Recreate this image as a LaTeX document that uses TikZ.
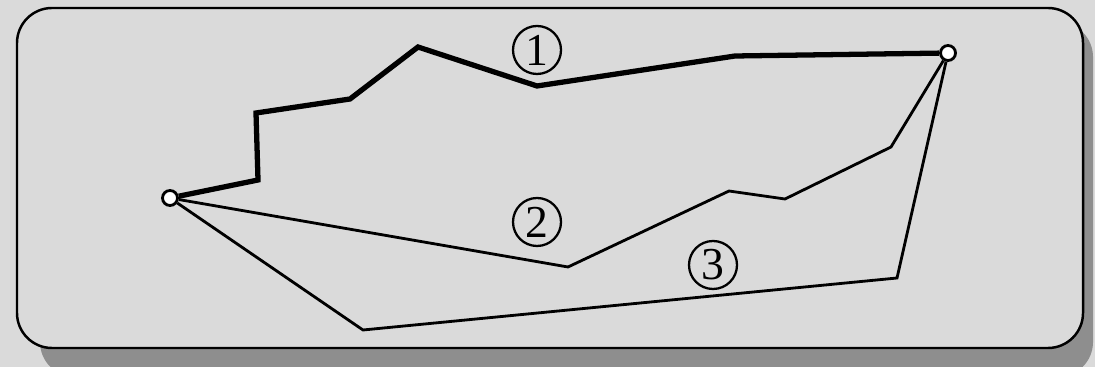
\documentclass[tikz,border=0pt]{standalone}
\usepackage{fontspec}
\setmainfont{Liberation Serif}
\definecolor{paperGray}{HTML}{DADADA}
\definecolor{shadowGray}{HTML}{8E8E8E}
\begin{document}
\begin{tikzpicture}[routeEnd/.style={draw, circle, fill=white, line width=0.8pt, inner sep=0pt, minimum size=0.15cm},
    routeLabel/.style={draw, circle, line width=0.65pt, inner sep=0pt, minimum size=0.48cm, font=\fontsize{13}{15}\selectfont},
    routeThick/.style={line width=1.5pt, line join=miter},
    routeThin/.style={line width=0.8pt, line join=miter},
    routeFrame/.style={draw, line width=0.7pt, rounded corners=0.35cm}]

    \fill[paperGray] (0, 0) rectangle (10.95, 3.67);
    \useasboundingbox (0, 0) rectangle (10.95, 3.67);
    \fill[shadowGray, rounded corners=0.35cm] (0.40, -0.10) rectangle (10.93, 3.45);
    \filldraw[routeFrame, fill=paperGray] (0.17, 0.19) rectangle (10.83, 3.59);

    \node[routeEnd] (start) at (1.70, 1.69) {};
    \node[routeEnd] (goal) at (9.48, 3.14) {};

    % route 1
    \draw[routeThick] (start) -- (2.58, 1.87) -- (2.56, 2.54) -- (3.50, 2.68) -- (4.18, 3.20)
        -- (5.37, 2.81) -- (7.35, 3.11) -- (goal);
    % route 2
    \draw[routeThin] (start) -- (5.68, 1.00) -- (7.29, 1.76) -- (7.85, 1.68) -- (8.91, 2.20) -- (goal);
    % route 3
    \draw[routeThin] (start) -- (3.63, 0.37) -- (8.97, 0.89) -- (goal);

    \node[routeLabel] (lab1) at (5.37, 3.17) {1};
    \node[routeLabel] (lab2) at (5.37, 1.45) {2};
    \node[routeLabel] (lab3) at (7.13, 1.02) {3};
\end{tikzpicture}
\end{document}
